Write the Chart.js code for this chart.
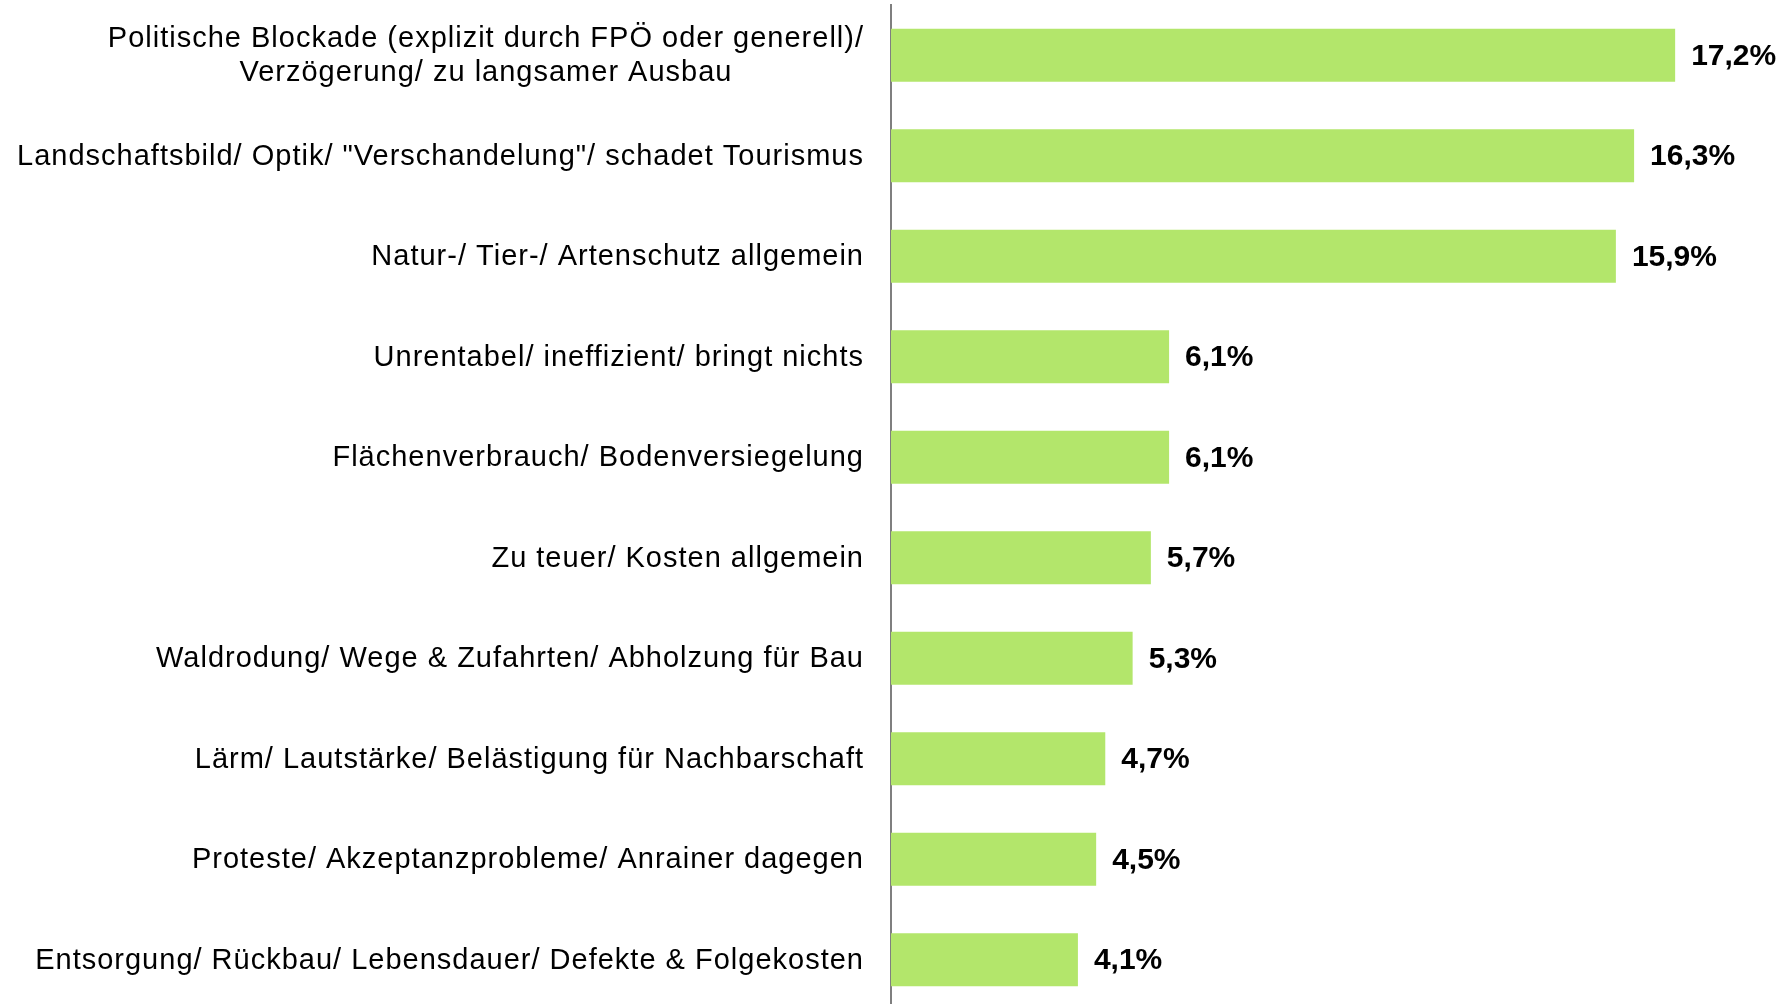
<!DOCTYPE html>
<html>
<head>
<meta charset="utf-8">
<script src="https://cdn.jsdelivr.net/npm/chart.js@4/dist/chart.umd.min.js"></script>
<style>
html,body{margin:0;padding:0;background:#fff;overflow:hidden;width:1788px;height:1004px;}
#wrap{position:relative;width:1788px;height:1010px;}
</style>
</head>
<body>
<div id="wrap"><canvas id="c" width="1788" height="1010"></canvas></div>
<script>
const categories = [
  ["Politische Blockade (explizit durch FPÖ oder generell)/", "Verzögerung/ zu langsamer Ausbau"],
  "Landschaftsbild/ Optik/ \"Verschandelung\"/ schadet Tourismus",
  "Natur-/ Tier-/ Artenschutz allgemein",
  "Unrentabel/ ineffizient/ bringt nichts",
  "Flächenverbrauch/ Bodenversiegelung",
  "Zu teuer/ Kosten allgemein",
  "Waldrodung/ Wege & Zufahrten/ Abholzung für Bau",
  "Lärm/ Lautstärke/ Belästigung für Nachbarschaft",
  "Proteste/ Akzeptanzprobleme/ Anrainer dagegen",
  "Entsorgung/ Rückbau/ Lebensdauer/ Defekte & Folgekosten"
];
const values = [17.2, 16.3, 15.9, 6.1, 6.1, 5.7, 5.3, 4.7, 4.5, 4.1];
const valueLabels = ["17,2%", "16,3%", "15,9%", "6,1%", "6,1%", "5,7%", "5,3%", "4,7%", "4,5%", "4,1%"];

const FONT = '"Liberation Sans", Arial, sans-serif';

const labelPlugin = {
  id: 'customLabels',
  afterDatasetsDraw(chart) {
    const ctx = chart.ctx;
    const meta = chart.getDatasetMeta(0);
    const yScale = chart.scales.y;
    ctx.save();
    // value labels
    ctx.font = 'bold 30px ' + FONT;
    ctx.fillStyle = '#000';
    ctx.textAlign = 'left';
    ctx.textBaseline = 'middle';
    meta.data.forEach((bar, i) => {
      ctx.fillText(valueLabels[i], bar.x + 16, bar.y + 1);
    });
    // category labels
    ctx.font = '29px ' + FONT;
    try { ctx.letterSpacing = '1px'; } catch (e) {}
    ctx.fillStyle = '#000';
    const rightX = chart.chartArea.left - 27;
    const lineH = 34;
    categories.forEach((cat, i) => {
      const cy = yScale.getPixelForValue(i);
      const lines = Array.isArray(cat) ? cat : [cat];
      const widths = lines.map(l => ctx.measureText(l).width);
      const maxW = Math.max(...widths);
      const center = rightX - maxW / 2;
      lines.forEach((l, j) => {
        const y = cy + (j - (lines.length - 1) / 2) * lineH + 1;
        ctx.textAlign = lines.length > 1 ? 'center' : 'right';
        ctx.fillText(l, lines.length > 1 ? center : rightX, y);
      });
    });
    ctx.restore();
  }
};

new Chart(document.getElementById('c'), {
  type: 'bar',
  data: {
    labels: categories,
    datasets: [{
      data: values,
      backgroundColor: '#b3e66b',
      borderWidth: 0,
      barPercentage: 0.527,
      categoryPercentage: 1.0
    }]
  },
  options: {
    indexAxis: 'y',
    responsive: false,
    animation: false,
    events: [],
    layout: { padding: { top: 5, right: 8, bottom: 0, left: 0 } },
    plugins: { legend: { display: false }, tooltip: { enabled: false } },
    scales: {
      x: {
        display: false,
        min: 0,
        max: 19.5
      },
      y: {
        afterFit(scale) { scale.width = 891; },
        grid: { display: false, drawTicks: false },
        border: { display: true, color: '#7f7f7f', width: 2 },
        ticks: { display: false }
      }
    }
  },
  plugins: [labelPlugin]
});
</script>
</body>
</html>
